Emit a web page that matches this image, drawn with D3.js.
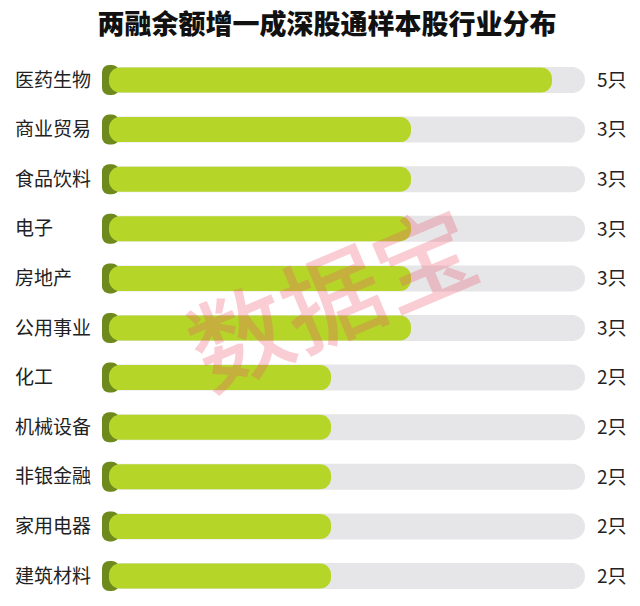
<!DOCTYPE html>
<html><head><meta charset="utf-8">
<script src="https://cdn.jsdelivr.net/npm/d3@7"></script>
<style>body{margin:0;background:#fff}svg{display:block}</style>
</head><body>
<script>
const title = "两融余额增一成深股通样本股行业分布";
const categories = ["医药生物","商业贸易","食品饮料","电子","房地产","公用事业","化工","机械设备","非银金融","家用电器","建筑材料"];
const values = [5,3,3,3,3,3,2,2,2,2,2];
const unit = "只";
const watermark = "数据宝";

const W = 640, H = 606;
const svg = d3.select("body").append("svg").attr("width", W).attr("height", H);
const font = "'Noto Sans CJK SC','Noto Sans',sans-serif";

svg.append("text").attr("x", 327).attr("y", 34).attr("text-anchor","middle")
  .attr("font-family", font).attr("font-weight", 900).attr("font-size", 27)
  .attr("fill", "#111").text(title);

const y = d3.scalePoint().domain(categories).range([80, 576]);
const x = d3.scalePow().exponent(0.73).domain([0, 5]).range([99, 552]);
const trackStart = 103, trackEnd = 585;

const rows = svg.append("g").selectAll("g").data(categories).join("g")
  .attr("transform", d => `translate(0,${y(d)})`);

rows.append("text").attr("x", 15).attr("y", 0).attr("dy", "0.35em")
  .attr("font-family", font).attr("font-size", 19).attr("fill", "#222").text(d => d);

rows.append("rect").attr("x", trackStart).attr("y", -13).attr("width", trackEnd - trackStart)
  .attr("height", 26).attr("rx", 13).attr("fill", "#e6e6e8");

rows.append("rect").attr("x", 102).attr("y", -15).attr("width", 17).attr("height", 30)
  .attr("rx", 7).attr("fill", "#6e8a1c");

rows.append("rect").attr("x", 109).attr("y", -12.5)
  .attr("width", (d, i) => x(values[i]) - 109).attr("height", 25).attr("rx", 11)
  .attr("fill", "#b5d629");

rows.append("text").attr("x", 597).attr("y", 0).attr("dy", "0.36em")
  .attr("font-family", font).attr("font-size", 19).attr("fill", "#222")
  .text((d, i) => values[i] + unit);

svg.append("text").attr("transform", "translate(333,300) rotate(-23)")
  .attr("text-anchor", "middle").attr("dy", "0.36em")
  .attr("font-family", font).attr("font-size", 100).attr("font-weight", 500)
  .attr("fill", "rgb(236,90,110)").attr("fill-opacity", 0.3).text(watermark);
</script>
</body></html>
